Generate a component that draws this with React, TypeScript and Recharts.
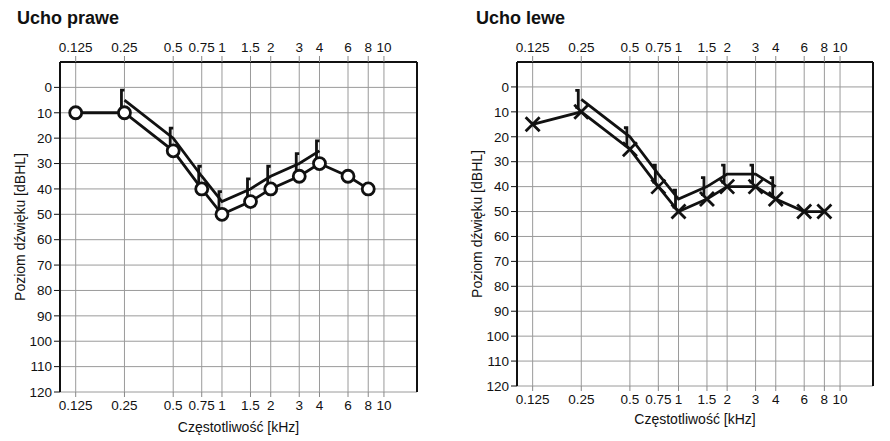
import { LineChart, Line, XAxis, YAxis, CartesianGrid, ReferenceLine } from "recharts";

// audiogram data, frequency in kHz, level in dBHL
const freqs = [0.125, 0.25, 0.5, 0.75, 1, 1.5, 2, 3, 4, 6, 8];
const rightAir = [10, 10, 25, 40, 50, 45, 40, 35, 30, 35, 40];
const rightBone = [null, 5, 20, 35, 45, 40, 35, 30, 25, null, null];
const leftAir = [15, 10, 25, 40, 50, 45, 40, 40, 45, 50, 50];
const leftBone = [null, 5, 20, 35, 45, 40, 35, 35, 40, null, null];

const freqTicks = [0.125, 0.25, 0.5, 0.75, 1, 1.5, 2, 3, 4, 6, 8, 10];
const dbTicks = [0, 10, 20, 30, 40, 50, 60, 70, 80, 90, 100, 110, 120];

const font = "'Liberation Sans', Arial, sans-serif";
const ink = "#111";

function rows(air: (number | null)[], bone: (number | null)[]) {
  return freqs.map((f, i) => ({ f, air: air[i], bone: bone[i] }));
}

const circleDot = (p: any) => {
  const { cx, cy, index } = p;
  if (cx == null || cy == null || p.value == null) return <g key={`c${index}`} />;
  return <circle key={`c${index}`} cx={cx} cy={cy} r={6} fill="#fff" stroke={ink} strokeWidth={2.8} />;
};

const crossDot = (p: any) => {
  const { cx, cy, index } = p;
  if (cx == null || cy == null || p.value == null) return <g key={`x${index}`} />;
  const s = 7;
  return (
    <path
      key={`x${index}`}
      d={`M${cx - s},${cy - s}L${cx + s},${cy + s}M${cx + s},${cy - s}L${cx - s},${cy + s}`}
      stroke={ink}
      strokeWidth={2.8}
      fill="none"
    />
  );
};

const bracketRight = (p: any) => {
  const { cx, cy, index } = p;
  if (cx == null || cy == null || p.value == null) return <g key={`b${index}`} />;
  const x = cx - 3;
  return (
    <path
      key={`b${index}`}
      d={`M${x + 3},${cy - 10}H${x}V${cy + 9}H${x + 4}`}
      stroke={ink}
      strokeWidth={2.8}
      fill="none"
    />
  );
};

const bracketLeft = (p: any) => {
  const { cx, cy, index } = p;
  if (cx == null || cy == null || p.value == null) return <g key={`b${index}`} />;
  const x = cx - 3;
  return (
    <path
      key={`b${index}`}
      d={`M${x - 3},${cy - 9}H${x}V${cy + 8}H${x - 3}`}
      stroke={ink}
      strokeWidth={2.8}
      fill="none"
    />
  );
};

type PanelProps = {
  title: string;
  left: number;
  width: number;
  margin: { top: number; right: number; bottom: number; left: number };
  bottomHeight: number;
  air: (number | null)[];
  bone: (number | null)[];
  airDot: any;
  boneDot: any;
  titleLeft: number;
};

function Panel(props: PanelProps) {
  const data = rows(props.air, props.bone);
  const tick = { fontSize: 13.5, fill: ink, fontFamily: font };
  return (
    <div style={{ position: "absolute", left: props.left, top: 0 }}>
      <div
        style={{
          position: "absolute",
          left: props.titleLeft,
          top: 9,
          fontFamily: font,
          fontWeight: "bold",
          fontSize: 18,
          lineHeight: "18px",
          color: ink,
          whiteSpace: "nowrap",
        }}
      >
        {props.title}
      </div>
      <LineChart width={props.width} height={441} data={data} margin={props.margin}>
        <CartesianGrid xAxisId="b" stroke="#9a9a9a" strokeWidth={1} />
        <XAxis
          xAxisId="t"
          orientation="top"
          dataKey="f"
          type="number"
          scale="log"
          domain={[0.1, 16]}
          allowDataOverflow
          ticks={freqTicks}
          interval={0}
          height={30}
          tick={tick}
          tickSize={6}
          tickMargin={4}
          tickLine={{ stroke: "#888" }}
          axisLine={{ stroke: ink, strokeWidth: 2 }}
        />
        <XAxis
          xAxisId="b"
          dataKey="f"
          type="number"
          scale="log"
          domain={[0.1, 16]}
          allowDataOverflow
          ticks={freqTicks}
          interval={0}
          height={props.bottomHeight}
          tick={tick}
          tickSize={5}
          tickMargin={3}
          tickLine={{ stroke: "#888" }}
          axisLine={false}
          label={{
            value: "Częstotliwość [kHz]",
            position: "insideBottom",
            offset: 0,
            style: { fontSize: 14, fill: ink, fontFamily: font },
          }}
        />
        <YAxis
          type="number"
          domain={[-10, 120]}
          reversed
          allowDataOverflow
          ticks={dbTicks}
          interval={0}
          width={60}
          tick={tick}
          tickSize={6}
          tickMargin={2}
          tickLine={{ stroke: ink }}
          axisLine={{ stroke: ink, strokeWidth: 2 }}
          label={{
            value: "Poziom dźwięku [dBHL]",
            angle: -90,
            position: "insideLeft",
            offset: 20,
            style: { fontSize: 14, fill: ink, fontFamily: font, textAnchor: "middle" },
          }}
        />
        <ReferenceLine xAxisId="b" x={16} stroke={ink} strokeWidth={2} ifOverflow="visible" />
        <Line
          xAxisId="b"
          dataKey="bone"
          stroke={ink}
          strokeWidth={2.8}
          dot={props.boneDot}
          activeDot={false}
          isAnimationActive={false}
        />
        <Line
          xAxisId="b"
          dataKey="air"
          stroke={ink}
          strokeWidth={2.8}
          dot={props.airDot}
          activeDot={false}
          isAnimationActive={false}
        />
      </LineChart>
    </div>
  );
}

export default function App() {
  return (
    <div style={{ position: "absolute", left: 0, top: 0, width: 890, height: 441, background: "#fff" }}>
      <Panel
        title="Ucho prawe"
        titleLeft={17}
        left={0}
        width={440}
        margin={{ top: 32, right: 23, bottom: 9, left: 0 }}
        bottomHeight={40}
        air={rightAir}
        bone={rightBone}
        airDot={circleDot}
        boneDot={bracketRight}
      />
      <Panel
        title="Ucho lewe"
        titleLeft={36}
        left={440}
        width={450}
        margin={{ top: 32, right: 17, bottom: 17, left: 17 }}
        bottomHeight={38}
        air={leftAir}
        bone={leftBone}
        airDot={crossDot}
        boneDot={bracketLeft}
      />
    </div>
  );
}
